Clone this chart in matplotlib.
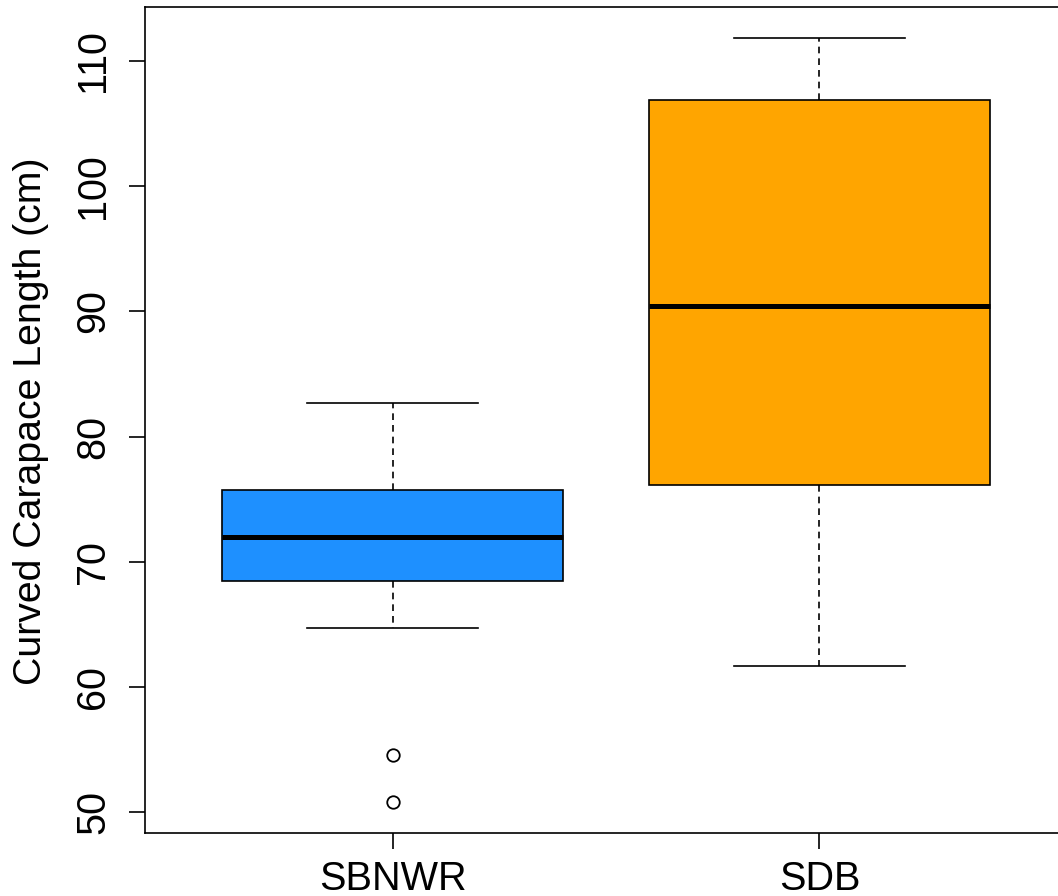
import matplotlib
matplotlib.use("Agg")
import matplotlib.pyplot as plt

plt.rcParams["font.family"] = ["Liberation Sans", "DejaVu Sans"]

# Summary statistics
groups = ["SBNWR", "SDB"]
whislo = [64.7, 61.65]
q1 = [68.5, 76.1]
med = [72.0, 90.45]
q3 = [75.7, 106.9]
whishi = [82.65, 111.85]
fliers = [[54.55, 50.8], []]
colors = ["#1E90FF", "#FFA500"]

stats = []
for i, g in enumerate(groups):
    stats.append(dict(label=g, whislo=whislo[i], q1=q1[i], med=med[i],
                      q3=q3[i], whishi=whishi[i], fliers=fliers[i]))

fig = plt.figure(figsize=(10.58, 8.96), dpi=100)
ax = fig.add_axes([145 / 1058, 63 / 896, 922 / 1058, 826 / 896])

bp = ax.bxp(stats, positions=[1, 2], widths=0.8, capwidths=0.4,
            patch_artist=True, showfliers=True,
            boxprops=dict(linewidth=1.2, edgecolor="black"),
            medianprops=dict(color="black", linewidth=3.6, solid_capstyle="butt"),
            whiskerprops=dict(color="black", linewidth=1.2, linestyle=(0, (4, 3))),
            capprops=dict(color="black", linewidth=1.2),
            flierprops=dict(marker="o", markerfacecolor="white",
                            markeredgecolor="black", markersize=9,
                            markeredgewidth=1.3, linestyle="none"))
for patch, c in zip(bp["boxes"], colors):
    patch.set_facecolor(c)

ax.set_xlim(0.42, 2.58)
ax.set_ylim(48.36, 114.29)
ax.set_yticks([50, 60, 70, 80, 90, 100, 110])
ax.set_xticks([1, 2])
ax.set_xticklabels(groups)
for lbl in ax.get_yticklabels():
    lbl.set_rotation(90)
    lbl.set_va("center")
ax.tick_params(axis="both", labelsize=28.5, length=11.5, width=1.2)
ax.tick_params(axis="y", pad=12)
ax.tick_params(axis="x", pad=8)
for s in ax.spines.values():
    s.set_linewidth(1.2)

fig.text(31 / 1058, 0.5 + (896 / 2 - 421) / 896, "Curved Carapace Length (cm)",
         rotation=90, ha="center", va="center", fontsize=28.3)

fig.savefig("out.png", dpi=100)
